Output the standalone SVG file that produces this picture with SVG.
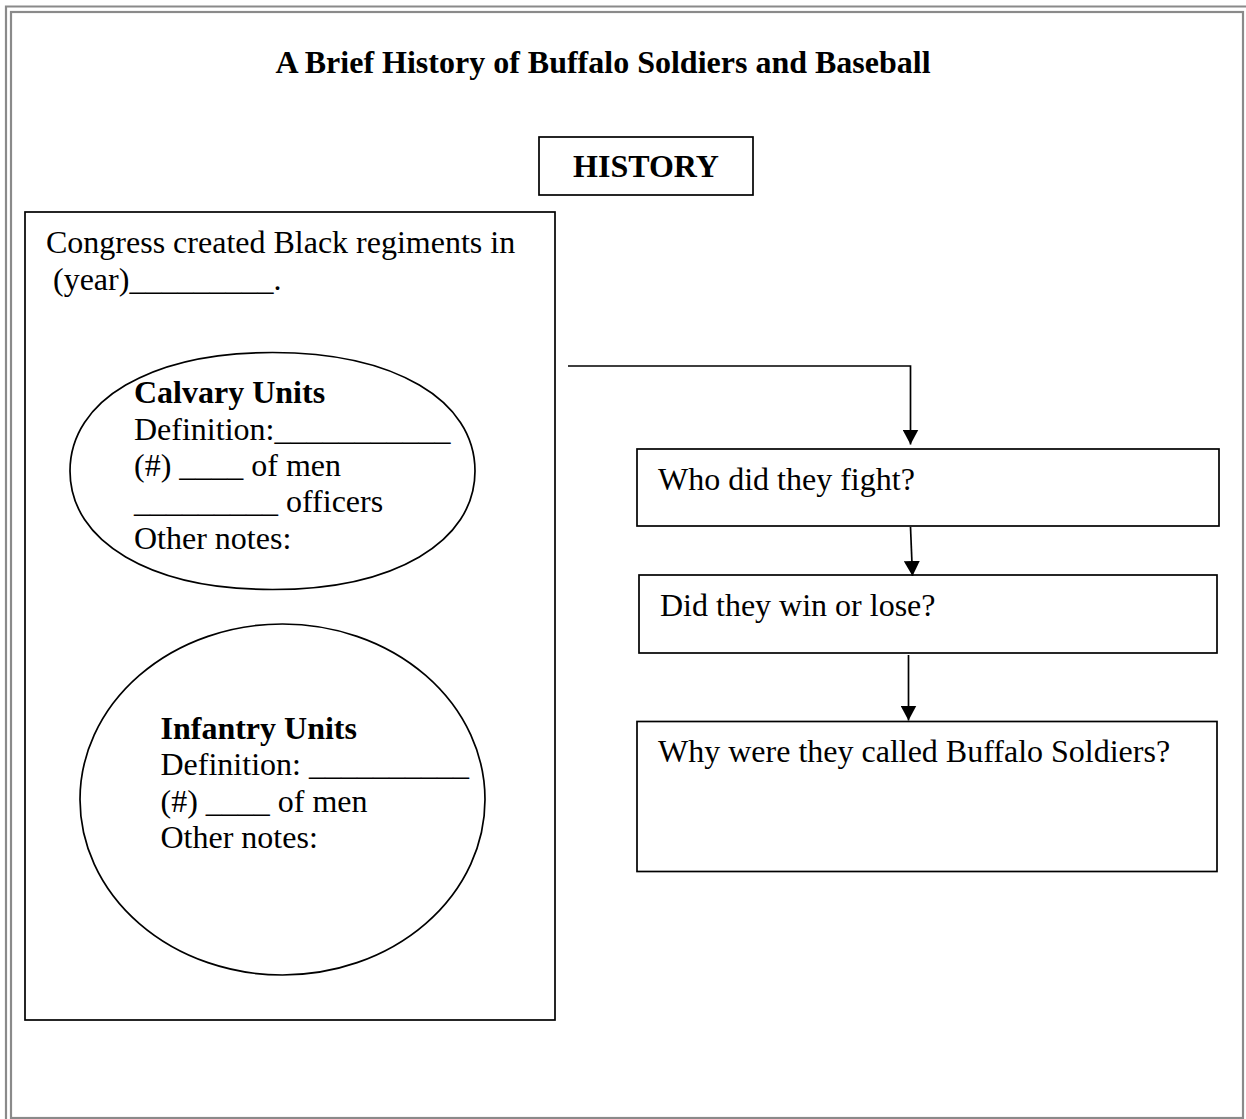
<svg xmlns="http://www.w3.org/2000/svg" width="1246" height="1119" viewBox="0 0 1246 1119">
  <defs>
    <marker id="arrow" markerWidth="16" markerHeight="16" refX="15" refY="8" orient="auto" markerUnits="userSpaceOnUse">
      <path d="M0,0 L15,8 L0,16 Z" fill="#000"/>
    </marker>
  </defs>
  <style>
    text { font-family: "Liberation Serif", "Times New Roman", serif; font-size: 32px; fill: #000; }
    .b { font-weight: bold; }
    .frame { fill: none; stroke: #8a8a8a; stroke-width: 2.2; }
    .box { fill: #fff; stroke: #000; stroke-width: 1.7; }
    .oval { fill: #fff; stroke: #000; stroke-width: 1.7; }
    .link { fill: none; stroke: #000; stroke-width: 1.7; }
  </style>
  <rect width="1246" height="1119" fill="#fff"/>

  <!-- page border (double rule) -->
  <path class="frame" d="M6,1119 V6.5 H1246"/>
  <rect class="frame" x="11" y="12" width="1232" height="1106"/>

  <text id="title" class="b" x="603" y="73" text-anchor="middle">A Brief History of Buffalo Soldiers and Baseball</text>

  <g id="history">
    <rect class="box" x="539" y="137" width="214" height="58"/>
    <text class="b" x="646" y="177" text-anchor="middle">HISTORY</text>
  </g>

  <g id="regiments">
    <rect class="box" x="25" y="212" width="530" height="808"/>
    <text x="46" y="253">Congress created Black regiments in</text>
    <text x="53" y="290">(year)_________.</text>
  </g>

  <g id="calvary">
    <!-- slightly full oval, as drawn by the word processor -->
    <path class="oval" d="M475,471 C475,542.1 394,589.5 272.5,589.5 C151,589.5 70,542.1 70,471 C70,399.9 151,352.5 272.5,352.5 C394,352.5 475,399.9 475,471 Z"/>
    <text class="b" x="134" y="403">Calvary Units</text>
    <text x="134" y="439.5">Definition:___________</text>
    <text x="134" y="476">(#) ____ of men</text>
    <text x="134" y="512">_________ officers</text>
    <text x="134" y="548.5">Other notes:</text>
  </g>

  <g id="infantry">
    <ellipse class="oval" cx="282.5" cy="799.5" rx="202.5" ry="175.5"/>
    <text class="b" x="160.5" y="738.5">Infantry Units</text>
    <text x="160.5" y="775">Definition: __________</text>
    <text x="160.5" y="811.5">(#) ____ of men</text>
    <text x="160.5" y="848">Other notes:</text>
  </g>

  <g id="fight">
    <rect class="box" x="637" y="449" width="582" height="77"/>
    <text x="658" y="490">Who did they fight?</text>
  </g>

  <g id="outcome">
    <rect class="box" x="639" y="575" width="578" height="78"/>
    <text x="660" y="616">Did they win or lose?</text>
  </g>

  <g id="name">
    <rect class="box" x="637" y="721.5" width="580" height="150"/>
    <text x="658" y="762">Why were they called Buffalo Soldiers?</text>
  </g>

  <g id="connectors">
    <path class="link" d="M568,366 H910.5 V444.5" marker-end="url(#arrow)"/>
    <path class="link" d="M910.5,527 L912.5,576" marker-end="url(#arrow)"/>
    <path class="link" d="M908.5,655 V720.5" marker-end="url(#arrow)"/>
  </g>
</svg>
